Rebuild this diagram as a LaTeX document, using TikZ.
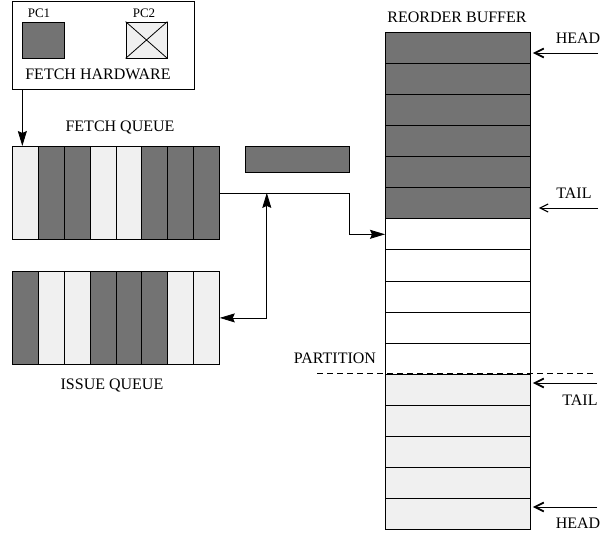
\documentclass[tikz,border=0pt]{standalone}
\usepackage{fontspec}
\setmainfont{Liberation Serif}
\usetikzlibrary{arrows.meta, calc}

\definecolor{cellD}{gray}{0.45}
\definecolor{cellL}{gray}{0.94}

\begin{document}
\begin{tikzpicture}[x=1pt, y=-1pt, line width=0.8pt,
        >={Stealth[length=15pt, width=9pt, inset=2pt]},
        lbl/.style={font=\fontsize{16}{18}\selectfont, inner sep=0pt, anchor=base},
        pclbl/.style={font=\fontsize{13}{15}\selectfont, inner sep=0pt, anchor=base},
        cell/.style={draw, anchor=north west, inner sep=0pt, minimum width=25.875pt, minimum height=93pt},
        robrow/.style={draw, anchor=north west, inner sep=0pt, minimum width=145pt, minimum height=31.0625pt},
        ptr/.style={-{Straight Barb[length=9pt, width=9pt, line width=1.8pt]}, shorten >=2pt}]
        \useasboundingbox (0,0) rectangle (602,533);

        % 페치 하드웨어
        \node[draw, inner sep=0pt, minimum width=182pt, minimum height=88pt] (fh) at (103,45) {};
        \node[pclbl] (pc1lbl) at (39,17.5) {PC1};
        \node[pclbl] (pc2lbl) at (144,17.5) {PC2};
        \node[draw, fill=cellD, inner sep=0pt, minimum width=42pt, minimum height=36pt] (pc1) at (43,40) {};
        \node[draw, fill=cellL, inner sep=0pt, minimum width=41pt, minimum height=36pt] (pc2) at (146.5,40) {};
        \draw (pc2.north west) -- (pc2.south east) (pc2.north east) -- (pc2.south west);
        \node[lbl] (fhlbl) at (98,79) {FETCH HARDWARE};

        % 페치 큐
        \node[lbl] (fqlbl) at (120,131) {FETCH QUEUE};
        \foreach \c [count=\i] in {cellL,cellD,cellD,cellL,cellL,cellD,cellD,cellD}
            \node[cell, fill=\c] (fq\i) at ({12+(\i-1)*25.875}, 146) {};
        \node[draw, fill=cellD, anchor=north west, inner sep=0pt, minimum width=104pt, minimum height=26pt] (latch) at (245,146) {};

        % 이슈 큐
        \foreach \c [count=\i] in {cellD,cellL,cellL,cellD,cellD,cellD,cellL,cellL}
            \node[cell, fill=\c] (iq\i) at ({12+(\i-1)*25.875}, 271) {};
        \node[lbl] (iqlbl) at (112,389) {ISSUE QUEUE};

        % 리오더 버퍼
        \node[lbl] (roblbl) at (457,22) {REORDER BUFFER};
        \foreach \c [count=\i] in {cellD,cellD,cellD,cellD,cellD,cellD,white,white,white,white,white,cellL,cellL,cellL,cellL,cellL}
            \node[robrow, fill=\c] (rob\i) at (385, {32+(\i-1)*31.0625}) {};

        % 파티션
        \coordinate (pL) at (317,373);
        \coordinate (pR) at (593,373);
        \draw[dash pattern=on 6pt off 4pt] (pL) -- (pR);
        \node[lbl] (ptlbl) at (335,363) {PARTITION};

        % 연결선
        \coordinate (fin) at ([xshift=-3pt]fq1.north);
        \draw[->] (fin |- fh.south) -- (fin);
        \draw[->] (fq8.east) -- (fq8.east -| latch.east) |- (rob7.west);
        \coordinate (jn) at ($(fq8.east)+(47,0)$);
        \draw[<->] (jn) |- (iq8.east);

        % 헤드/테일 포인터
        \coordinate (hd1) at (598,53);
        \coordinate (tl1) at (598,208);
        \coordinate (tl2) at (597,383);
        \coordinate (hd2) at (597,507);
        \draw[ptr] (hd1) -- (hd1 -| rob1.east);
        \draw[-{Straight Barb[length=8pt, width=8pt, line width=1.2pt]}, shorten >=8pt] (tl1) -- (tl1 -| rob6.east);
        \draw[ptr] (tl2) -- (tl2 -| rob12.east);
        \draw[ptr] (hd2) -- (hd2 -| rob16.east);
        \node[lbl] (hd1lbl) at (578,43) {HEAD};
        \node[lbl] (tl1lbl) at (574,198) {TAIL};
        \node[lbl] (tl2lbl) at (580,405) {TAIL};
        \node[lbl] (hd2lbl) at (578,528) {HEAD};
    \end{tikzpicture}
\end{document}
